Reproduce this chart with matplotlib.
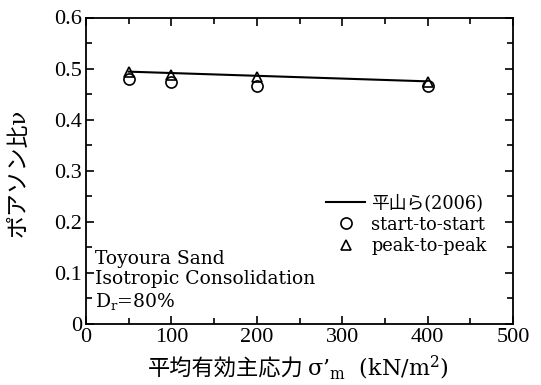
import matplotlib
matplotlib.use("Agg")
import matplotlib.pyplot as plt
from matplotlib.ticker import MultipleLocator

plt.rcParams['font.family'] = ['DejaVu Serif', 'Noto Sans CJK JP', 'DejaVu Sans']
plt.rcParams['mathtext.fontset'] = 'custom'
plt.rcParams['mathtext.rm'] = 'DejaVu Serif'
plt.rcParams['mathtext.it'] = 'DejaVu Serif:italic'

# Data
stress = [50, 100, 200, 400]
start_to_start = [0.480, 0.473, 0.466, 0.465]
peak_to_peak = [0.494, 0.487, 0.483, 0.473]
line_x = [50, 400]
line_y = [0.494, 0.475]

W, H = 541, 385
fig = plt.figure(figsize=(W / 100, H / 100), dpi=100)
ax = fig.add_axes([86 / W, (H - 324) / H, (513 - 86) / W, (324 - 17.5) / H])

ax.plot(line_x, line_y, color='black', lw=1.5, label='平山ら(2006)')
ax.plot(stress, start_to_start, 'o', mfc='white', mec='black', mew=1.2, ms=8,
        label='start-to-start', zorder=3)
ax.plot(stress, peak_to_peak, '^', mfc='none', mec='black', mew=1.2, ms=7.5,
        label='peak-to-peak', zorder=4)

ax.set_xlim(0, 500)
ax.set_ylim(0, 0.6)
ax.xaxis.set_major_locator(MultipleLocator(100))
ax.xaxis.set_minor_locator(MultipleLocator(50))
ax.yaxis.set_minor_locator(MultipleLocator(0.05))
ax.set_yticks([0, 0.1, 0.2, 0.3, 0.4, 0.5, 0.6])
ax.set_yticklabels(['0', '0.1', '0.2', '0.3', '0.4', '0.5', '0.6'])
ax.tick_params(which='both', direction='in', top=True, right=True, width=1.2,
               labelsize=16, labelfontfamily='Liberation Serif')
ax.tick_params(which='major', length=6, pad=3)
ax.tick_params(which='minor', length=4)
for s in ax.spines.values():
    s.set_linewidth(1.3)

# y label
fig.text(19 / W, (H - 173) / H, 'ポアソン比ν', rotation=90, ha='center', va='center',
         fontsize=16.5, family=['DejaVu Serif', 'Noto Sans CJK JP'])

# x label in two parts (CJK + math)
fig.canvas.draw()
r = fig.canvas.get_renderer()
yb = (H - 376) / H
t1 = fig.text(0, yb, '平均有効主応力', fontsize=16, family=['Noto Sans CJK JP'], va='baseline')
t2 = fig.text(0, yb, "σ’$_\\mathrm{m}$  (kN/m$^2$)", fontsize=16, family=['DejaVu Serif'], va='baseline')
w1 = t1.get_window_extent(r).width
gap = 3
x0 = 148
t1.set_x(x0 / W)
t2.set_x((x0 + w1 + gap) / W)

ax.text(0.022, 0.242, 'Toyoura Sand\nIsotropic Consolidation\nD$_\\mathrm{r}$=80%',
        transform=ax.transAxes, fontsize=13.5, va='top', ha='left', linespacing=1.17)

leg = ax.legend(loc='upper left', bbox_to_anchor=((326 - 86) / 427, (324 - 194) / 306.5),
                frameon=False, handlelength=2.2, handletextpad=0.35,
                labelspacing=0.2, borderaxespad=0, borderpad=0, markerscale=1.0,
                prop={'family': ['DejaVu Serif', 'Noto Sans CJK JP'], 'size': 12.8})

fig.savefig('out.png', dpi=100)
